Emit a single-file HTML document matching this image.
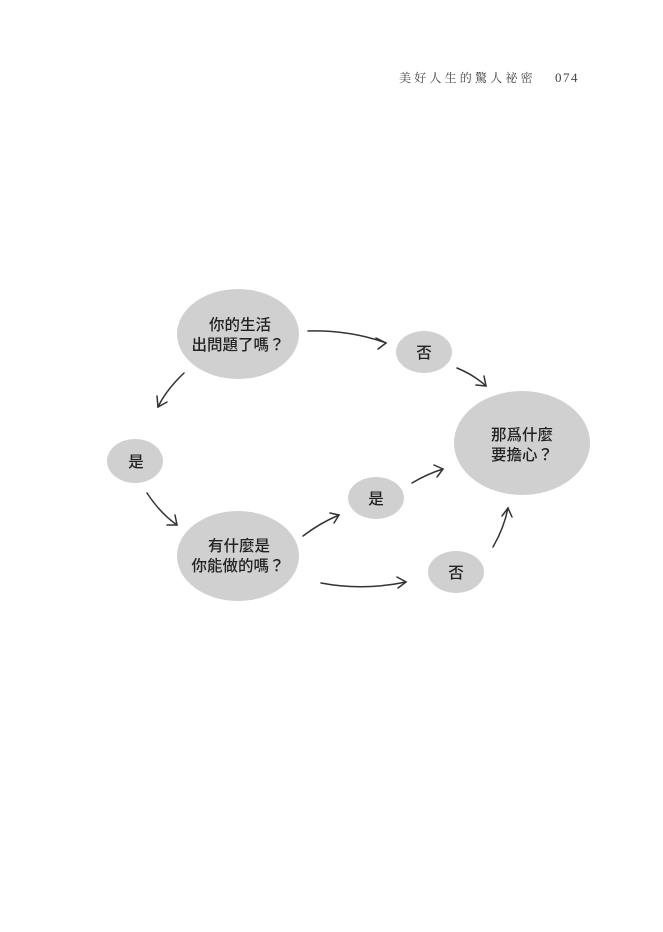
<!DOCTYPE html>
<html><head><meta charset="utf-8"><style>
html,body{margin:0;padding:0;background:#fff;}
body{width:663px;height:932px;position:relative;overflow:hidden;font-family:"Liberation Sans","Noto Sans CJK TC",sans-serif;}
.hd{position:absolute;left:399px;top:69px;font-family:"Liberation Serif","Noto Serif CJK SC",serif;font-size:12px;color:#444;white-space:nowrap;letter-spacing:3.2px;}
.pg{position:absolute;left:555px;top:70px;font-family:"Liberation Serif",serif;font-size:13px;color:#444;letter-spacing:1.5px;}
</style></head><body>
<div class="hd">美好人生的驚人祕密</div>
<div class="pg">074</div>
<svg width="663" height="932" style="position:absolute;left:0;top:0" font-family="'Liberation Sans','Noto Sans CJK TC',sans-serif" font-size="15.5" font-weight="500" fill="#222">
<g fill="#d0d0d0">
<ellipse cx="238" cy="334" rx="61" ry="45"/>
<ellipse cx="424" cy="352" rx="28" ry="21"/>
<ellipse cx="522" cy="443" rx="68" ry="52"/>
<ellipse cx="135" cy="461" rx="28" ry="22"/>
<ellipse cx="376" cy="498" rx="28" ry="21"/>
<ellipse cx="238" cy="556" rx="61" ry="45"/>
<ellipse cx="456" cy="572" rx="28" ry="21"/>
</g>
<g text-anchor="middle">
<text x="240" y="330">你的生活</text>
<text x="238" y="350">出問題了嗎？</text>
<text x="424" y="358">否</text>
<text x="522" y="440">那爲什麼</text>
<text x="522" y="460">要擔心？</text>
<text x="136" y="467">是</text>
<text x="376" y="504">是</text>
<text x="239" y="551">有什麼是</text>
<text x="238" y="571">你能做的嗎？</text>
<text x="456" y="578">否</text>
</g>
<g fill="none" stroke="#333" stroke-width="1.5" stroke-linecap="round">
<path d="M308 331 Q350 330 386 343"/><path d="M376 338 L386 343 L378 349"/>
<path d="M457 368 Q474 375 486 386"/><path d="M476 385 L486 386 L484 376"/>
<path d="M184 373 Q166 390 158 407"/><path d="M157 396 L158 407 L167 402"/>
<path d="M147 493 Q160 513 177 525"/><path d="M167 525 L177 525 L175 515"/>
<path d="M303 536 Q320 523 339 515"/><path d="M330 513 L339 515 L334 523"/>
<path d="M412 483 Q427 474 443 469"/><path d="M434 465 L443 469 L437 477"/>
<path d="M321 583 Q363 591 406 582"/><path d="M397 577 L406 582 L398 588"/>
<path d="M493 547 Q504 528 508 508"/><path d="M502 516 L508 508 L512 517"/>
</g>
</svg>
</body></html>
